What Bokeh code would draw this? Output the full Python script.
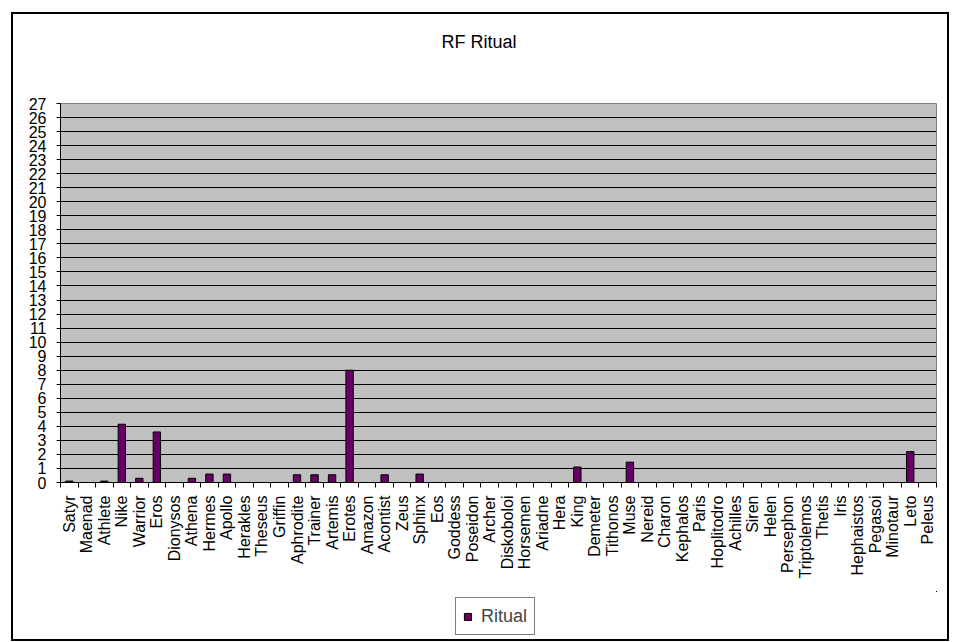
import math
from bokeh.plotting import figure
from bokeh.layouts import column
from bokeh.models import (FixedTicker, Range1d, Legend, LegendItem, Title,
                          ColumnDataSource, AllLabels)
from bokeh.embed import file_html
from bokeh.resources import INLINE

categories = ["Satyr", "Maenad", "Athlete", "Nike", "Warrior", "Eros", "Dionysos",
              "Athena", "Hermes", "Apollo", "Herakles", "Theseus", "Griffin",
              "Aphrodite", "Trainer", "Artemis", "Erotes", "Amazon", "Acontist",
              "Zeus", "Sphinx", "Eos", "Goddess", "Poseidon", "Archer", "Diskoboloi",
              "Horsemen", "Ariadne", "Hera", "King", "Demeter", "Tithonos", "Muse",
              "Nereid", "Charon", "Kephalos", "Paris", "Hoplitodro", "Achilles",
              "Siren", "Helen", "Persephon", "Triptolemos", "Thetis", "Iris",
              "Hephaistos", "Pegasoi", "Minotaur", "Leto", "Peleus"]
ritual = [0.1, 0, 0.1, 4.15, 0.3, 3.6, 0,
          0.3, 0.6, 0.6, 0, 0, 0,
          0.55, 0.55, 0.55, 8, 0, 0.55,
          0, 0.6, 0, 0, 0, 0, 0,
          0, 0, 0, 1.1, 0, 0, 1.45,
          0, 0, 0, 0, 0, 0,
          0, 0, 0, 0, 0, 0,
          0, 0, 0, 2.2, 0]
y_ticks = list(range(0, 28))
title_text = "RF Ritual"
series_name = "Ritual"

n = len(categories)
centers = [i + 0.5 for i in range(n)]
bounds = [float(i) for i in range(n + 1)]
source = ColumnDataSource(dict(x=centers, top=ritual, name=categories))

FONT = "Liberation Sans"
BAR_FILL = "#660066"

p = figure(width=934, height=577, output_backend="svg", toolbar_location=None,
           x_range=Range1d(0, n), y_range=Range1d(0, 27),
           min_border_left=47, min_border_right=11, min_border_top=89,
           min_border_bottom=109, title=title_text)
p.background_fill_color = "#C0C0C0"
p.border_fill_color = "white"
p.outline_line_color = "#808080"
p.outline_line_width = 1

p.title.align = "left"
p.title.offset = 381
p.title.standoff = 10
p.title.text_font = FONT
p.title.text_font_size = "18px"
p.title.text_font_style = "normal"
p.title.text_color = "black"

# blank spacer between title and plot area
p.add_layout(Title(text=" ", text_font_size="18px", standoff=25), "above")

r = p.vbar(x="x", top="top", width=0.42, source=source,
           fill_color=BAR_FILL, line_color="black", line_width=1)

# grid
p.xgrid.visible = False
p.ygrid.ticker = FixedTicker(ticks=y_ticks)
p.ygrid.grid_line_color = "black"
p.ygrid.grid_line_width = 1

# y axis
ya = p.yaxis[0]
ya.ticker = FixedTicker(ticks=y_ticks)
ya.major_tick_out = 4
ya.major_tick_in = 0
ya.minor_tick_out = 0
ya.minor_tick_in = 0
ya.major_label_standoff = 10
ya.major_label_text_font = FONT
ya.major_label_text_font_size = "16px"
ya.major_label_text_color = "black"
ya.axis_line_color = "black"
ya.major_tick_line_color = "black"
ya.major_label_policy = AllLabels()

# x axis: labels at category centres, tick marks at boundaries
xa = p.xaxis[0]
xa.ticker = FixedTicker(ticks=centers, minor_ticks=bounds)
xa.major_tick_out = 0
xa.major_tick_in = 0
xa.minor_tick_out = 5
xa.minor_tick_in = 0
xa.minor_tick_line_color = "black"
xa.major_label_overrides = {c: lab for c, lab in zip(centers, categories)}
xa.major_label_orientation = math.pi / 2
xa.major_label_standoff = 8
xa.major_label_text_font = FONT
xa.major_label_text_font_size = "16px"
xa.major_label_text_color = "black"
xa.axis_line_color = "black"
xa.major_label_policy = AllLabels()

# legend strip below the chart (same bars, scrolled out of view)
p2 = figure(width=934, height=48, output_backend="svg", toolbar_location=None,
            x_range=Range1d(-20, -10), y_range=Range1d(-20, -10),
            min_border_left=0, min_border_right=0, min_border_top=0,
            min_border_bottom=0)
p2.axis.visible = False
p2.grid.visible = False
p2.outline_line_color = None
p2.background_fill_color = "white"
p2.border_fill_color = "white"
r2 = p2.vbar(x="x", top="top", width=0.42, source=source, fill_color=BAR_FILL,
             line_color="black", line_width=1)

legend = Legend(items=[LegendItem(label=series_name, renderers=[r2])],
                location=(395, 4), orientation="vertical",
                border_line_color="black", border_line_width=1,
                background_fill_color="white", background_fill_alpha=1,
                padding=7, margin=0, spacing=0,
                glyph_width=9, glyph_height=9, label_standoff=9,
                label_text_font=FONT, label_text_font_size="18px",
                label_height=22)
p2.add_layout(legend, "center")

layout = column(p, p2, spacing=0,
                styles={"margin-left": "13px", "margin-top": "14px",
                        "outline": "2px solid black", "outline-offset": "0px"})

open("out.html", "w").write(file_html(layout, INLINE))
